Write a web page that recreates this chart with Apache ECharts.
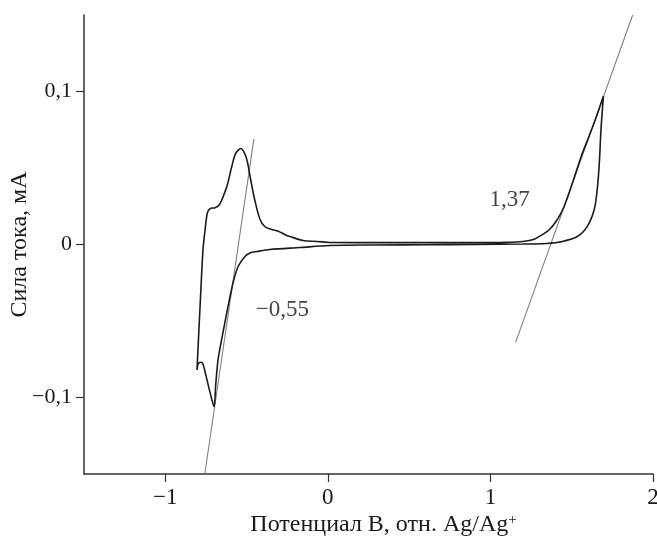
<!DOCTYPE html>
<html>
<head>
<meta charset="utf-8">
<title>ЦВА</title>
<script src="https://cdn.jsdelivr.net/npm/echarts@6/dist/echarts.min.js"></script>
<style>
  html, body { margin: 0; padding: 0; background: #fff; }
  #chart { width: 657px; height: 540px; }
</style>
</head>
<body>
<div id="chart"></div>
<script>
// cyclic voltammogram (potential V, current mA)
var cvX = [0.01, 0.3, 0.6, 0.9, 1.1, 1.2, 1.27, 1.32, 1.36, 1.40, 1.45, 1.51, 1.56, 1.60, 1.65, 1.695,
    1.68, 1.67, 1.657, 1.639, 1.596, 1.535, 1.443, 1.344, 1.2, 0.9, 0.6, 0.3, 0.01,
    -0.172, -0.356, -0.436, -0.479, -0.51, -0.552, -0.583, -0.614, -0.645, -0.675, -0.69, -0.70,
    -0.724, -0.749, -0.769, -0.78, -0.798, -0.805,
    -0.784, -0.768, -0.755, -0.745, -0.737, -0.72, -0.694, -0.667, -0.643, -0.618, -0.591, -0.567,
    -0.536, -0.514, -0.496, -0.475, -0.448, -0.417, -0.387, -0.346, -0.305, -0.254, -0.233, -0.153,
    -0.067, 0.01];
var cvY = [0.0013, 0.0012, 0.0012, 0.0012, 0.0014, 0.002, 0.0035, 0.0065, 0.0095, 0.0145, 0.024, 0.042, 0.058, 0.069, 0.083, 0.097,
    0.075, 0.0536, 0.036, 0.023, 0.0118, 0.0052, 0.002, 0.0007, 0.0003, 0.0, -0.0002, -0.0003, -0.0007,
    -0.002, -0.0033, -0.0046, -0.0055, -0.0078, -0.0144, -0.025, -0.0405, -0.0575, -0.075, -0.092, -0.106,
    -0.097, -0.086, -0.078, -0.077, -0.078, -0.082,
    -0.036, -0.0033, 0.0098, 0.0185, 0.0218, 0.0237, 0.024, 0.026, 0.0316, 0.039, 0.051, 0.0595,
    0.0627, 0.06, 0.0545, 0.0425, 0.0283, 0.0163, 0.0116, 0.0098, 0.0087, 0.0059, 0.0052, 0.0026,
    0.002, 0.0013];

// tangent lines
var tanLeftX = [-0.455, -0.757];
var tanLeftY = [0.069, -0.150];
var tanRightX = [1.155, 1.875];
var tanRightY = [-0.064, 0.150];

// onset annotations
var noteX = [1.118, -0.28];
var noteY = [0.029, -0.0428];
var noteText = ['1,37', '−0,55'];

var xTicks = [-1, 0, 1, 2];
var yTicks = [-0.1, 0, 0.1];

function pairs(xs, ys) {
    var out = [];
    for (var i = 0; i < xs.length; i++) out.push([xs[i], ys[i]]);
    return out;
}

function ruNum(v) {
    return String(v).replace('-', '−').replace('.', ',');
}

var serif = '"Liberation Serif", "DejaVu Serif", serif';

var chart = echarts.init(document.getElementById('chart'));

var option = {
    animation: false,
    backgroundColor: '#fff',
    grid: { left: 84, right: 4, top: 15, bottom: 66, outerBoundsMode: 'none', containLabel: false },
    xAxis: {
        type: 'value',
        min: -1.5,
        max: 2,
        name: 'Потенциал В, отн. Ag/Ag{sup|+}',
        nameLocation: 'middle',
        nameGap: 39,
        nameMoveOverlap: false,
        nameTextStyle: {
            fontFamily: serif, fontSize: 24, color: '#1a1a1a', padding: [0, 0, 0, 30],
            rich: { sup: { fontFamily: serif, fontSize: 15, verticalAlign: 'top', color: '#1a1a1a', padding: [0, 0, 8, 0] } }
        },
        axisLine: { show: true, onZero: false, lineStyle: { color: '#333', width: 1.5 } },
        axisTick: { show: true, inside: false, length: 8, customValues: xTicks, lineStyle: { color: '#333', width: 1.2 } },
        axisLabel: { customValues: xTicks, margin: 12, fontFamily: serif, fontSize: 23, color: '#1a1a1a', formatter: ruNum },
        splitLine: { show: false }
    },
    yAxis: {
        type: 'value',
        min: -0.15,
        max: 0.15,
        name: 'Сила тока, мА',
        nameLocation: 'middle',
        nameGap: 52,
        nameMoveOverlap: false,
        nameTextStyle: { fontFamily: serif, fontSize: 24, color: '#1a1a1a' },
        axisLine: { show: true, onZero: false, lineStyle: { color: '#333', width: 1.5 } },
        axisTick: { show: true, inside: false, length: 8, customValues: yTicks, lineStyle: { color: '#333', width: 1.2 } },
        axisLabel: { customValues: yTicks, margin: 12, fontFamily: serif, fontSize: 22, color: '#1a1a1a', formatter: ruNum },
        splitLine: { show: false }
    },
    series: [
        {
            type: 'line',
            data: pairs(tanLeftX, tanLeftY),
            showSymbol: false,
            lineStyle: { color: '#808080', width: 1.1 },
            silent: true
        },
        {
            type: 'line',
            data: pairs(tanRightX, tanRightY),
            showSymbol: false,
            lineStyle: { color: '#808080', width: 1.1 },
            silent: true
        },
        {
            type: 'line',
            data: pairs(cvX, cvY),
            showSymbol: false,
            smooth: 0.3,
            lineStyle: { color: '#1a1a1a', width: 1.6 },
            silent: true
        },
        {
            type: 'scatter',
            data: pairs(noteX, noteY),
            symbolSize: 0,
            silent: true,
            label: {
                show: true,
                position: 'inside',
                fontFamily: serif,
                fontSize: 23,
                color: '#111',
                formatter: function (p) { return noteText[p.dataIndex]; }
            }
        }
    ]
};

chart.setOption(option);
</script>
</body>
</html>
